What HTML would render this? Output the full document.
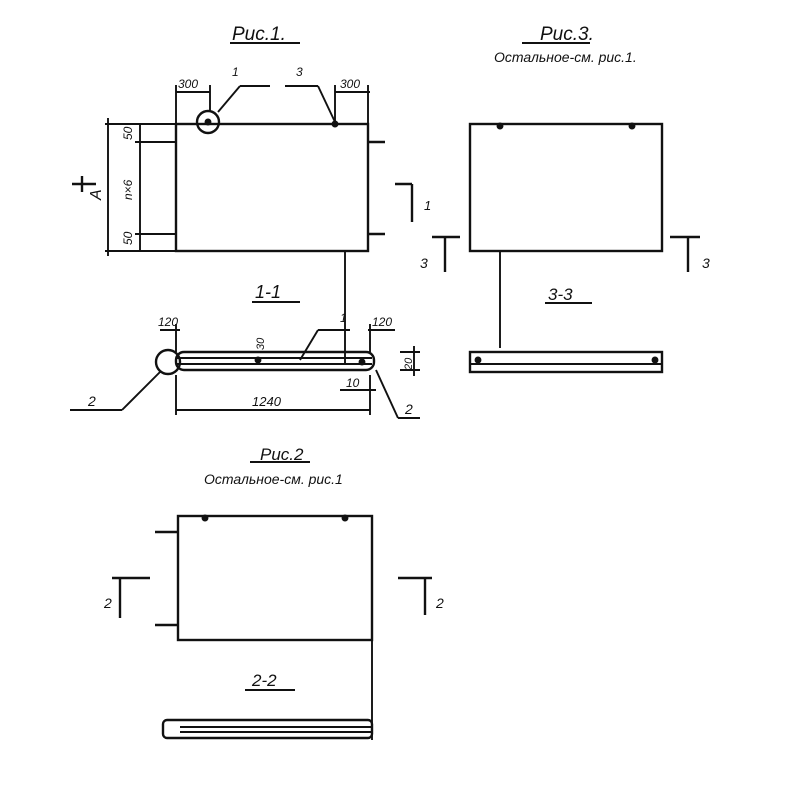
<!DOCTYPE html>
<html><head><meta charset="utf-8"><style>
html,body{margin:0;padding:0;background:#fff;width:800px;height:800px;overflow:hidden}
svg text{font-family:"Liberation Sans",sans-serif;font-style:italic;fill:#111}
</style></head><body>
<svg width="800" height="800" viewBox="0 0 800 800" xmlns="http://www.w3.org/2000/svg" stroke="#111" fill="none" stroke-width="1.9">
<text x="232" y="40" font-size="19" stroke="none">Рис.1.</text>
<line x1="230" y1="43" x2="300" y2="43"/>
<rect x="176" y="124" width="192" height="127" stroke-width="2.4"/>
<line x1="105" y1="124" x2="176" y2="124"/>
<line x1="105" y1="251" x2="176" y2="251"/>
<line x1="108" y1="118" x2="108" y2="256"/>
<line x1="140" y1="124" x2="140" y2="251"/>
<line x1="135" y1="142" x2="176" y2="142"/>
<line x1="135" y1="234" x2="176" y2="234"/>
<line x1="368" y1="142" x2="385" y2="142" stroke-width="2.4"/>
<line x1="368" y1="234" x2="385" y2="234" stroke-width="2.4"/>
<text x="0" y="0" font-size="12" stroke="none" transform="translate(132,140) rotate(-90)">50</text>
<text x="0" y="0" font-size="12" stroke="none" transform="translate(132,200) rotate(-90)">n×6</text>
<text x="0" y="0" font-size="12" stroke="none" transform="translate(132,245) rotate(-90)">50</text>
<text x="0" y="0" font-size="16" stroke="none" transform="translate(101,200) rotate(-90)">A</text>
<line x1="72" y1="184" x2="96" y2="184" stroke-width="2.4"/>
<line x1="82" y1="176" x2="82" y2="192" stroke-width="2.4"/>
<line x1="395" y1="184" x2="412" y2="184" stroke-width="2.4"/>
<line x1="412" y1="184" x2="412" y2="222" stroke-width="2.4"/>
<text x="424" y="210" font-size="13" stroke="none">1</text>
<circle cx="208" cy="122" r="11" stroke-width="2.4"/>
<circle cx="208" cy="122" r="2.5" fill="#111"/>
<circle cx="335" cy="124" r="2.5" fill="#111"/>
<line x1="176" y1="92" x2="210" y2="92"/>
<line x1="176" y1="85" x2="176" y2="124"/>
<line x1="210" y1="85" x2="210" y2="112"/>
<text x="178" y="88" font-size="12" stroke="none">300</text>
<line x1="218" y1="112" x2="240" y2="86"/>
<line x1="240" y1="86" x2="270" y2="86"/>
<text x="232" y="76" font-size="12" stroke="none">1</text>
<line x1="285" y1="86" x2="318" y2="86"/>
<line x1="318" y1="86" x2="335" y2="122"/>
<text x="296" y="76" font-size="12" stroke="none">3</text>
<line x1="335" y1="92" x2="370" y2="92"/>
<line x1="335" y1="85" x2="335" y2="124"/>
<line x1="368" y1="85" x2="368" y2="124"/>
<text x="340" y="88" font-size="12" stroke="none">300</text>
<line x1="345" y1="251" x2="345" y2="365"/>
<text x="255" y="298" font-size="18" stroke="none">1-1</text>
<line x1="252" y1="302" x2="300" y2="302"/>
<rect x="176" y="352" width="198" height="18" rx="8" stroke-width="2.4"/>
<line x1="176" y1="358" x2="372" y2="358"/>
<line x1="176" y1="364" x2="372" y2="364"/>
<circle cx="168" cy="362" r="12" stroke-width="2.4"/>
<circle cx="362" cy="362" r="2.5" fill="#111"/>
<circle cx="258" cy="360" r="2.5" fill="#111"/>
<line x1="160" y1="330" x2="180" y2="330"/>
<line x1="176" y1="324" x2="176" y2="352"/>
<text x="158" y="326" font-size="12" stroke="none">120</text>
<line x1="368" y1="330" x2="395" y2="330"/>
<line x1="370" y1="324" x2="370" y2="352"/>
<text x="372" y="326" font-size="12" stroke="none">120</text>
<line x1="300" y1="360" x2="318" y2="330"/>
<line x1="318" y1="330" x2="350" y2="330"/>
<text x="340" y="322" font-size="12" stroke="none">1</text>
<text x="0" y="0" font-size="11" stroke="none" transform="translate(264,350) rotate(-90)">30</text>
<line x1="400" y1="352" x2="420" y2="352"/>
<line x1="400" y1="370" x2="420" y2="370"/>
<line x1="414" y1="346" x2="414" y2="376"/>
<text x="0" y="0" font-size="11" stroke="none" transform="translate(412,370) rotate(-90)">20</text>
<line x1="176" y1="375" x2="176" y2="415"/>
<line x1="370" y1="375" x2="370" y2="415"/>
<line x1="176" y1="410" x2="370" y2="410"/>
<text x="252" y="406" font-size="13" stroke="none">1240</text>
<line x1="340" y1="390" x2="376" y2="390"/>
<text x="346" y="387" font-size="12" stroke="none">10</text>
<line x1="160" y1="372" x2="122" y2="410"/>
<line x1="122" y1="410" x2="70" y2="410"/>
<text x="88" y="406" font-size="14" stroke="none">2</text>
<line x1="376" y1="370" x2="398" y2="418"/>
<line x1="398" y1="418" x2="420" y2="418"/>
<text x="405" y="414" font-size="14" stroke="none">2</text>
<text x="540" y="40" font-size="19" stroke="none">Рис.3.</text>
<line x1="522" y1="43" x2="590" y2="43"/>
<text x="494" y="62" font-size="14" stroke="none">Остальное-см. рис.1.</text>
<rect x="470" y="124" width="192" height="127" stroke-width="2.4"/>
<circle cx="500" cy="126" r="2.5" fill="#111"/>
<circle cx="632" cy="126" r="2.5" fill="#111"/>
<line x1="432" y1="237" x2="460" y2="237" stroke-width="2.4"/>
<line x1="445" y1="237" x2="445" y2="272" stroke-width="2.4"/>
<text x="420" y="268" font-size="14" stroke="none">3</text>
<line x1="670" y1="237" x2="700" y2="237" stroke-width="2.4"/>
<line x1="688" y1="237" x2="688" y2="272" stroke-width="2.4"/>
<text x="702" y="268" font-size="14" stroke="none">3</text>
<line x1="500" y1="251" x2="500" y2="348"/>
<text x="548" y="300" font-size="17" stroke="none">3-3</text>
<line x1="545" y1="303" x2="592" y2="303"/>
<rect x="470" y="352" width="192" height="20" stroke-width="2.4"/>
<line x1="470" y1="364" x2="662" y2="364"/>
<circle cx="478" cy="360" r="2.5" fill="#111"/>
<circle cx="655" cy="360" r="2.5" fill="#111"/>
<text x="260" y="460" font-size="17" stroke="none">Рис.2</text>
<line x1="250" y1="462" x2="310" y2="462"/>
<text x="204" y="484" font-size="14" stroke="none">Остальное-см. рис.1</text>
<rect x="178" y="516" width="194" height="124" stroke-width="2.4"/>
<circle cx="205" cy="518" r="2.5" fill="#111"/>
<circle cx="345" cy="518" r="2.5" fill="#111"/>
<line x1="155" y1="532" x2="178" y2="532" stroke-width="2.4"/>
<line x1="155" y1="625" x2="178" y2="625" stroke-width="2.4"/>
<line x1="112" y1="578" x2="150" y2="578" stroke-width="2.4"/>
<line x1="120" y1="578" x2="120" y2="618" stroke-width="2.4"/>
<text x="104" y="608" font-size="14" stroke="none">2</text>
<line x1="398" y1="578" x2="432" y2="578" stroke-width="2.4"/>
<line x1="425" y1="578" x2="425" y2="615" stroke-width="2.4"/>
<text x="436" y="608" font-size="14" stroke="none">2</text>
<line x1="372" y1="640" x2="372" y2="740"/>
<text x="252" y="686" font-size="17" stroke="none">2-2</text>
<line x1="245" y1="690" x2="295" y2="690"/>
<rect x="163" y="720" width="209" height="18" rx="4" stroke-width="2.4"/>
<line x1="180" y1="727" x2="372" y2="727"/>
<line x1="180" y1="732" x2="372" y2="732"/>
</svg>
</body></html>
